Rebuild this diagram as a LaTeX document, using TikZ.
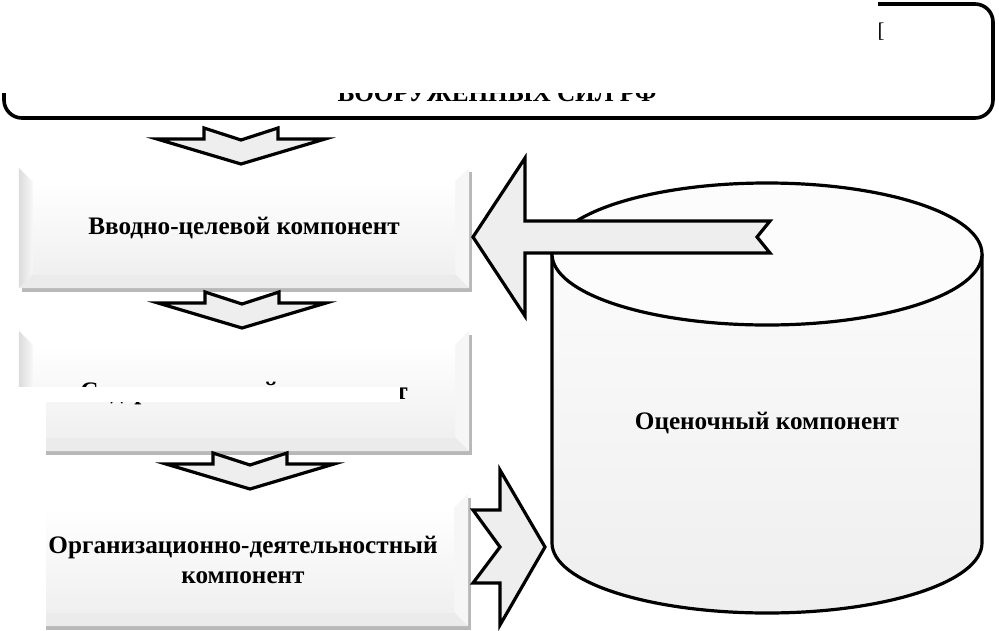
\documentclass[tikz,border=0pt]{standalone}
\usepackage{fontspec}
\setmainfont{Liberation Serif}
\usetikzlibrary{calc,backgrounds}
\definecolor{arrowfill}{HTML}{EEEEEE}
\newcommand\bevelbox[1]{%
  \fill[black!28] ($(#1.north west)+(3,-4)$) rectangle ($(#1.south east)+(3,-4)$);
  \fill[gray!12] (#1.north west) rectangle (#1.south east);
  \fill[white] (#1.north west) -- (#1.north east) -- ($(#1.north east)+(-14,-14)$) -- ($(#1.north west)+(14,-14)$) -- cycle;
  \shade[left color=gray!28, right color=gray!6] (#1.north west) -- ($(#1.north west)+(14,-14)$) -- ($(#1.south west)+(14,14)$) -- (#1.south west) -- cycle;
  \fill[gray!7] (#1.north east) -- ($(#1.north east)+(-14,-14)$) -- ($(#1.south east)+(-14,14)$) -- (#1.south east) -- cycle;
  \fill[gray!16] (#1.south west) -- ($(#1.south west)+(14,14)$) -- ($(#1.south east)+(-14,14)$) -- (#1.south east) -- cycle;
  \shade[top color=white, bottom color=gray!12] ($(#1.north west)+(14,-14)$) rectangle ($(#1.south east)+(-14,14)$);
}
\begin{document}
\begin{tikzpicture}[x=1pt,y=1pt,
  blockarrow/.style={draw=black, line width=3.2pt, fill=arrowfill, line join=miter, miter limit=10},
  lbl/.style={font=\fontsize{25.2}{30}\selectfont\bfseries, align=center, text=black, inner sep=0pt},
  boxnode/.style={lbl, minimum width=450pt},
  cylline/.style={draw=black, line width=3.2pt}
]
\useasboundingbox (0,0) rectangle (999,-630);

% top rounded box
\node[draw=black, line width=3.6pt, rounded corners=18pt, fill=white,
      minimum width=989pt, minimum height=114pt, inner sep=0pt] (top) at (498.5,-61) {};
\node[lbl, anchor=base] (toptxt) at (497,-101) {ВООРУЖЕННЫХ СИЛ РФ};
\fill[white] (-1,1) rectangle (878,-93);
\node[font=\fontsize{21}{21}\selectfont, inner sep=0pt] (brk) at (881,-32) {[};

% component boxes
\node[boxnode, minimum height=120pt] (b1) at (244,-228) {Вводно-целевой компонент};
\node[boxnode, minimum height=120pt] (b2) at (244,-391) {};
\node[lbl, anchor=base] (b2t) at (244,-399.5) {Содержательный компонент};
\node[boxnode, minimum height=132pt] (b3) at (243,-560) {Организационно-деятельностный\\компонент};
\begin{scope}[on background layer]
  \bevelbox{b1}
  \bevelbox{b2}
  \bevelbox{b3}
\end{scope}

% down arrows
\coordinate (d1) at (241,-128);
\coordinate (d2) at (242,-292);
\coordinate (d3) at (250,-453);
\foreach \c in {d1,d2,d3}{
  \draw[blockarrow, shift={(\c)}] (-37,0) -- (-37,-11) -- (-84,-11) -- (0,-36) -- (84,-11) -- (37,-11) -- (37,0) -- (0,-12) -- cycle;
}

% cylinder
\shade[top color=gray!3, bottom color=gray!13] (552,-254) -- (552,-543) arc[start angle=180, end angle=360, x radius=215, y radius=70] -- (982,-254) -- cycle;
\draw[cylline] (552,-254) -- (552,-543) arc[start angle=180, end angle=360, x radius=215, y radius=70] -- (982,-254);
\draw[cylline, fill=gray!2] (767,-254) ellipse[x radius=215, y radius=71];
\node[lbl] (cyl) at (767,-423) {Оценочный компонент};

% left arrow (cylinder -> b1)
\draw[blockarrow] (473,-237) -- (525,-158) -- (525,-221) -- (770,-221) -- (757,-237) -- (770,-253) -- (525,-253) -- (525,-316) -- cycle;

% right arrow (b3 -> cylinder)
\draw[blockarrow] (473,-510) -- (500,-510) -- (500,-470) -- (545,-547) -- (500,-625) -- (500,-583) -- (473,-583) -- (500,-547) -- cycle;

% white covers
\fill[white] (-1,-387) rectangle (400,-402);
\fill[white] (-1,-387) rectangle (46,-631);
\end{tikzpicture}
\end{document}
